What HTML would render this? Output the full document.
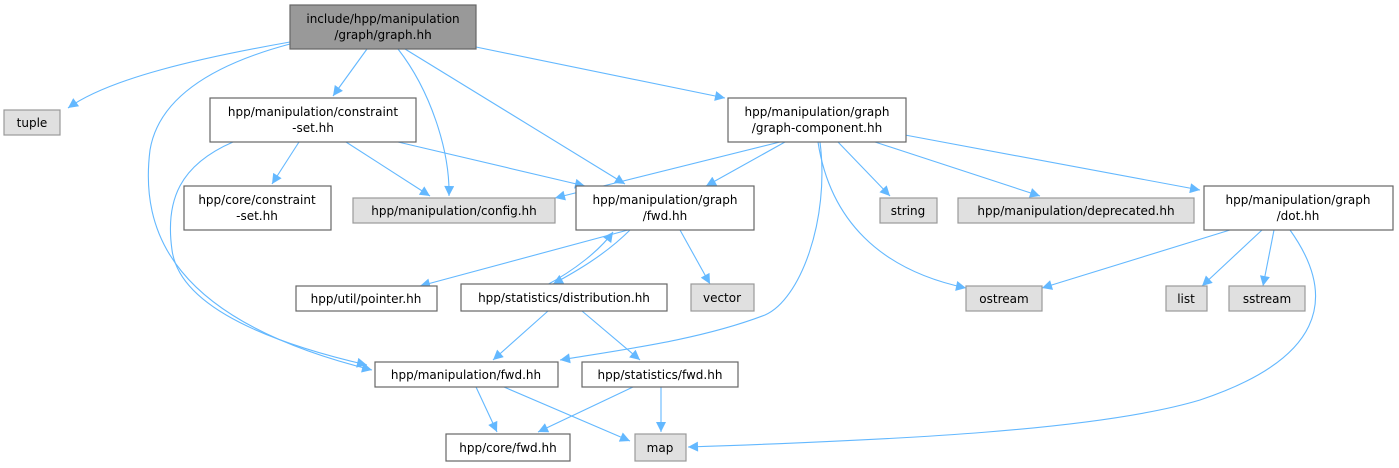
<!DOCTYPE html>
<html><head><meta charset="utf-8"><style>
html,body{margin:0;padding:0;background:#fff}
svg{display:block}
text{font-family:"DejaVu Sans","Liberation Sans",sans-serif;font-size:12px;fill:#000;text-anchor:middle}
.n{fill:#fff;stroke:#666;stroke-width:1.2}
.g{fill:#e0e0e0;stroke:#999;stroke-width:1.2}
.e{fill:none;stroke:#63b8ff;stroke-width:1.1}
</style></head><body>
<svg width="1399" height="468" viewBox="0 0 1399 468" xmlns="http://www.w3.org/2000/svg">
<defs><marker id="a" viewBox="0 0 10 10" refX="10" refY="5" markerWidth="13" markerHeight="10" markerUnits="userSpaceOnUse" orient="auto"><path d="M0,0 L10,5 L0,10 z" fill="#63b8ff"/></marker></defs>
<g class="e" marker-end="url(#a)">
<path d="M290,42 C200,58 110,78 68,108"/>
<path d="M367,49 L333,96"/>
<path d="M290,44 C230,60 160,90 150,150 C140,230 170,320 372,370"/>
<path d="M398,49 C430,90 450,150 449,196"/>
<path d="M405,49 L625,184"/>
<path d="M476,47 L725,98"/>
<path d="M299,142 L272,184"/>
<path d="M346,142 L430,196"/>
<path d="M398,142 L585,186"/>
<path d="M233,142 C180,165 165,200 172,250 C180,310 280,345 367,365"/>
<path d="M780,142 L555,198"/>
<path d="M785,142 L706,186"/>
<path d="M820,142 C830,220 800,300 765,315 C700,340 620,350 560,360"/>
<path d="M818,142 C830,220 880,270 966,288"/>
<path d="M838,142 L890,196"/>
<path d="M875,142 L1040,196"/>
<path d="M905,135 L1200,190"/>
<path d="M1230,230 L1042,288"/>
<path d="M1262,230 L1202,286"/>
<path d="M1274,230 L1263,286"/>
<path d="M1290,230 C1340,300 1320,360 1200,400 C1100,430 900,440 688,447"/>
<path d="M628,230 L420,286"/>
<path d="M545,286 C575,270 600,250 613,232"/>
<path d="M680,230 L710,284"/>
<path d="M548,311 L493,360"/>
<path d="M582,311 L640,360"/>
<path d="M476,387 L497,432"/>
<path d="M504,387 L630,441"/>
<path d="M633,387 L538,432"/>
<path d="M661,387 L661,432"/>
</g>
<path class="e" d="M630,230 C605,255 575,272 553,284" marker-end="url(#a)"/>
<rect x="290" y="5" width="186" height="44" fill="#999" stroke="#666" stroke-width="1.2"/>
<text x="383" y="23">include/hpp/manipulation</text><text x="383" y="39">/graph/graph.hh</text>
<rect class="g" x="4" y="110" width="56" height="25"/><text x="32" y="127">tuple</text>
<rect class="n" x="210" y="98" width="206" height="44"/><text x="313" y="116">hpp/manipulation/constraint</text><text x="313" y="132">-set.hh</text>
<rect class="n" x="728" y="98" width="178" height="44"/><text x="817" y="116">hpp/manipulation/graph</text><text x="817" y="132">/graph-component.hh</text>
<rect class="n" x="184" y="186" width="147" height="44"/><text x="257" y="204">hpp/core/constraint</text><text x="257" y="220">-set.hh</text>
<rect class="g" x="353" y="198" width="202" height="25"/><text x="454" y="215">hpp/manipulation/config.hh</text>
<rect class="n" x="576" y="186" width="178" height="44"/><text x="665" y="204">hpp/manipulation/graph</text><text x="665" y="220">/fwd.hh</text>
<rect class="g" x="880" y="198" width="57" height="25"/><text x="908" y="215">string</text>
<rect class="g" x="958" y="198" width="236" height="25"/><text x="1076" y="215">hpp/manipulation/deprecated.hh</text>
<rect class="n" x="1204" y="186" width="189" height="44"/><text x="1298" y="204">hpp/manipulation/graph</text><text x="1298" y="220">/dot.hh</text>
<rect class="n" x="296" y="286" width="141" height="25"/><text x="366" y="303">hpp/util/pointer.hh</text>
<rect class="n" x="461" y="284" width="206" height="27"/><text x="564" y="302">hpp/statistics/distribution.hh</text>
<rect class="g" x="691" y="284" width="63" height="27"/><text x="722" y="302">vector</text>
<rect class="g" x="966" y="286" width="76" height="25"/><text x="1004" y="303">ostream</text>
<rect class="g" x="1166" y="286" width="41" height="25"/><text x="1186" y="303">list</text>
<rect class="g" x="1229" y="286" width="76" height="25"/><text x="1267" y="303">sstream</text>
<rect class="n" x="375" y="362" width="183" height="25"/><text x="466" y="379">hpp/manipulation/fwd.hh</text>
<rect class="n" x="582" y="362" width="156" height="25"/><text x="660" y="379">hpp/statistics/fwd.hh</text>
<rect class="n" x="446" y="434" width="124" height="27"/><text x="508" y="452">hpp/core/fwd.hh</text>
<rect class="g" x="635" y="434" width="51" height="27"/><text x="660" y="452">map</text>
</svg>
</body></html>
